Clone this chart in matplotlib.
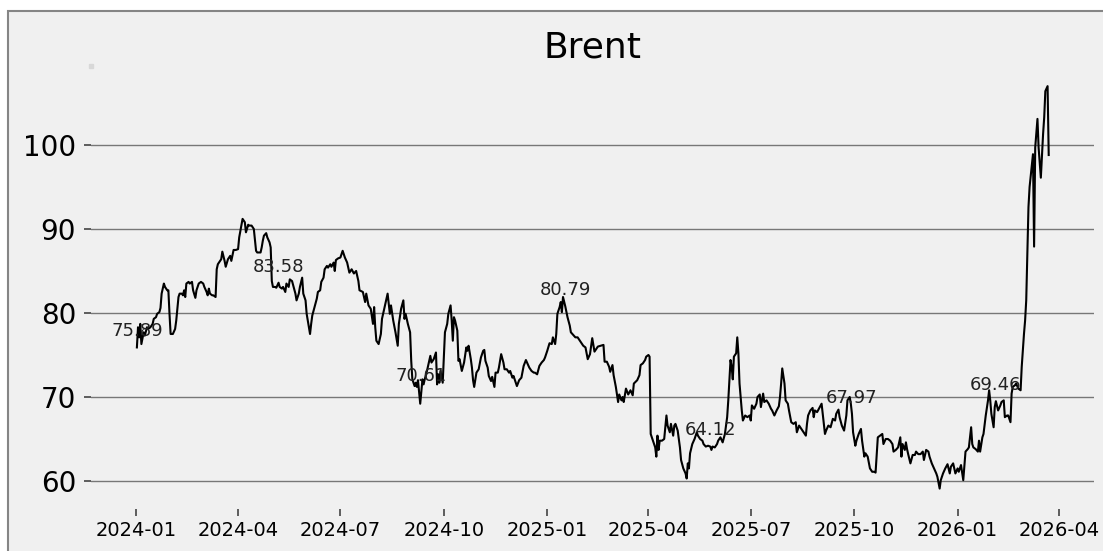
import matplotlib
matplotlib.use("Agg")
import matplotlib.pyplot as plt
import matplotlib.dates as mdates
from matplotlib.patches import Rectangle
import pandas as pd

# Brent close: day offsets from 2024-01-01 and prices
start = pd.Timestamp("2024-01-01")

days_a = [1, 2, 3, 4, 5, 7, 8, 10, 11, 13,
          15, 16, 18, 19, 21, 22, 23, 25, 26, 28,
          29, 30, 31, 33, 35, 36, 38, 39, 41, 42,
          43, 44, 45, 47, 48, 50, 51, 53, 54, 56,
          58, 60, 61, 63, 64, 65, 66, 68, 69, 71,
          72, 73, 76, 77, 79, 80, 82, 84, 85, 87,
          89, 91, 92, 94, 95, 97, 98, 100, 101, 103,
          104, 105, 107, 108, 111, 112, 113, 114, 116, 117,
          119, 120, 121, 122, 124, 125, 127, 128, 130, 131,
          133, 134, 136, 137, 139, 140, 142, 143, 145, 146,
          148, 149, 151, 152, 154, 155, 156, 157, 159, 161,
          162, 164, 165, 167, 168, 170, 171, 173, 174, 176,
          177, 178, 180, 182]
close_a = [75.9, 78.3, 77.1, 78.7, 76.3, 77.7, 77.3, 78.3, 78.1, 78.3,
           78.7, 79.3, 79.5, 79.9, 80.1, 80.6, 82.3, 83.5, 83.1, 82.7,
           82.7, 79.9, 77.5, 77.5, 78.1, 79.1, 81.9, 82.3, 82.3, 82.1,
           82.7, 81.9, 83.5, 83.7, 83.5, 83.7, 82.7, 81.8, 82.7, 83.5,
           83.7, 83.5, 83.1, 82.5, 82.1, 82.9, 82.3, 82.1, 82.1, 81.9,
           85.2, 85.8, 86.4, 87.3, 86.2, 85.5, 86.4, 86.8, 86.2, 87.5,
           87.5, 87.6, 89.0, 90.5, 91.2, 90.8, 89.6, 90.5, 90.4, 90.4,
           90.2, 90.0, 87.4, 87.2, 87.2, 87.8, 88.6, 89.2, 89.5, 89.0,
           88.4, 87.8, 83.8, 83.1, 83.1, 83.0, 83.6, 83.1, 82.9, 83.1,
           82.5, 83.5, 83.1, 84.0, 83.8, 83.3, 82.3, 81.5, 82.3, 83.1,
           84.2, 82.3, 81.5, 79.9, 78.3, 77.5, 78.7, 79.7, 80.7, 81.7,
           82.5, 82.7, 83.7, 84.2, 85.2, 85.6, 85.4, 85.8, 85.5, 86.0,
           85.0, 86.3, 86.5, 86.6]

days_b = [184, 186, 188, 190, 192, 194, 196, 198, 199, 202,
          204, 205, 207, 209, 211, 212, 213, 214, 216, 218,
          219, 222, 224, 226, 227, 229, 231, 233, 234, 236,
          238, 239, 240, 242, 244, 245, 246, 248, 249, 250,
          251, 253, 254, 255, 256, 257, 259, 261, 262, 263,
          265, 267, 268, 269, 270, 271, 273, 274, 275, 277,
          278, 280, 281, 282, 283, 284, 286, 287, 288, 290,
          292, 294, 295, 296, 298, 299, 300, 301, 303, 305,
          307, 309, 310, 311, 313, 314, 316, 317, 319, 320,
          322, 323, 325, 327, 328, 330, 332, 333, 335, 336,
          338, 339, 341, 343, 345, 347, 348, 350, 352, 354,
          355, 357, 359, 361, 363, 364, 366, 368, 370, 371,
          373, 374, 375, 377, 378, 379, 380, 382, 384, 386,
          387, 389, 391, 393, 395, 396, 398, 400, 402, 404]
close_b = [87.4, 86.6, 86.0, 84.8, 85.2, 84.7, 85.0, 83.8, 82.7, 82.5,
           81.3, 82.3, 80.9, 80.5, 78.7, 80.7, 78.3, 76.7, 76.3, 77.5,
           79.3, 81.1, 82.3, 79.9, 80.9, 79.1, 77.7, 76.1, 78.7, 80.5,
           81.5, 79.3, 79.9, 78.7, 77.7, 74.3, 72.1, 71.3, 71.7, 71.2,
           72.0, 69.2, 70.6, 72.1, 71.5, 72.1, 73.1, 74.3, 74.9, 74.1,
           74.5, 75.3, 71.5, 72.7, 71.7, 73.1, 71.7, 74.7, 77.7, 78.7,
           79.9, 80.9, 79.1, 76.7, 79.5, 79.1, 77.9, 74.3, 74.5, 73.1,
           74.1, 75.9, 75.5, 76.1, 74.5, 73.5, 72.0, 71.2, 72.9, 73.3,
           74.7, 75.5, 75.6, 74.3, 73.5, 72.5, 71.9, 72.4, 71.2, 72.9,
           72.9, 73.5, 75.1, 74.1, 73.3, 73.3, 72.9, 73.1, 72.3, 72.5,
           71.7, 71.3, 72.0, 72.3, 73.7, 74.4, 74.1, 73.5, 73.1, 72.9,
           72.9, 72.7, 73.7, 74.1, 74.4, 74.7, 75.5, 76.4, 76.3, 77.1,
           76.3, 77.5, 79.9, 80.7, 81.3, 80.1, 81.9, 80.8, 79.5, 78.5,
           77.7, 77.4, 77.1, 77.1, 76.7, 76.5, 76.1, 75.9, 74.5, 75.1]

days_c = [406, 408, 411, 416, 417, 419, 421, 422, 424, 425,
          427, 429, 430, 432, 433, 434, 436, 438, 440, 442,
          443, 446, 448, 449, 451, 453, 454, 456, 457, 458,
          460, 462, 463, 464, 465, 466, 468, 470, 472, 473,
          475, 476, 478, 479, 480, 482, 484, 485, 487, 489,
          490, 491, 492, 493, 495, 497, 499, 500, 502, 504,
          505, 507, 509, 511, 512, 513, 515, 517, 518, 520,
          522, 524, 526, 527, 528, 529, 530, 531, 532, 534,
          535, 536, 537, 539, 540, 542, 544, 546, 547, 548,
          550, 552, 553, 555, 556, 558, 559, 561, 563, 565,
          566, 568, 570, 572, 573, 574, 575, 577, 578, 580,
          581, 583, 585, 587, 588, 590, 592, 594, 596, 597,
          598, 600, 602, 603, 604, 606, 608, 610, 611, 613,
          614, 616, 618, 620, 622, 623, 625, 626, 628, 630,
          632, 633, 635, 636, 637, 638, 640, 641, 643, 645,
          646, 648, 649, 651, 653, 655, 657, 658, 660, 662,
          664, 665, 667, 669, 671, 673, 674, 676, 678, 680,
          681, 682, 684, 685, 686, 687, 689, 691, 693, 694,
          696, 698, 700, 701, 703, 705, 706, 708, 710, 712,
          713, 715, 716, 718, 720, 722, 724, 725, 727, 729,
          731, 732, 734, 736, 738, 740, 741, 743, 744, 745,
          747, 749, 750, 751, 753, 754, 756, 758, 759, 760,
          761, 763, 764, 765, 767, 769, 770, 772, 773, 775,
          776, 778, 779, 780, 782, 783, 785, 787, 788, 790,
          791, 792, 794, 795, 798, 799, 800, 802, 803, 805,
          807, 808, 809, 811, 812]
close_c = [77.0, 75.4, 76.0, 76.2, 74.2, 74.2, 73.6, 73.0, 73.8, 72.6,
           71.2, 69.4, 70.3, 69.6, 70.0, 69.4, 71.0, 70.3, 70.8, 70.2,
           71.6, 72.0, 72.6, 73.8, 74.0, 74.4, 74.8, 75.0, 74.8, 65.6,
           64.8, 64.0, 62.9, 65.4, 63.7, 64.8, 64.8, 65.0, 67.8, 66.6,
           65.8, 66.8, 65.4, 66.6, 66.8, 66.0, 64.0, 62.5, 61.5, 60.9,
           60.3, 62.1, 61.5, 63.3, 64.4, 65.0, 65.8, 65.4, 65.0, 64.8,
           64.4, 64.1, 64.2, 64.1, 63.7, 64.1, 64.0, 64.4, 64.8, 65.2,
           64.6, 65.6, 67.6, 69.6, 72.0, 74.4, 73.6, 72.1, 74.8, 75.2,
           77.1, 75.2, 71.6, 68.4, 67.2, 67.8, 67.6, 67.8, 67.2, 69.0,
           68.6, 69.2, 70.0, 70.3, 68.8, 70.4, 69.4, 69.6, 69.2, 68.6,
           68.4, 67.8, 68.4, 68.9, 70.0, 71.6, 73.4, 71.6, 69.6, 69.2,
           68.4, 67.0, 66.8, 67.0, 65.8, 66.6, 66.2, 65.8, 65.4, 66.8,
           67.8, 68.4, 68.7, 67.6, 68.4, 68.2, 68.7, 69.2, 68.0, 65.6,
           66.0, 66.6, 66.4, 67.4, 67.2, 68.0, 68.5, 67.6, 66.6, 66.0,
           67.8, 69.6, 70.0, 69.2, 68.0, 65.8, 64.2, 64.8, 65.6, 66.2,
           64.8, 62.9, 63.3, 62.9, 61.5, 61.1, 61.1, 61.0, 65.2, 65.4,
           65.6, 64.4, 65.0, 65.0, 64.8, 64.4, 63.5, 63.7, 64.0, 65.2,
           62.9, 64.4, 63.7, 64.6, 63.8, 63.2, 62.1, 63.1, 63.1, 63.5,
           63.2, 63.2, 63.5, 62.5, 63.7, 63.5, 62.9, 62.1, 61.5, 60.9,
           60.5, 59.1, 60.1, 60.9, 61.5, 62.0, 60.9, 61.7, 62.1, 60.9,
           61.5, 61.1, 61.9, 60.1, 63.5, 63.8, 64.0, 66.4, 64.4, 64.0,
           63.8, 63.5, 64.8, 63.5, 65.2, 65.6, 67.8, 69.6, 70.8, 69.6,
           68.0, 66.4, 68.8, 69.5, 68.4, 69.0, 69.4, 69.6, 67.6, 67.8,
           67.8, 67.0, 70.4, 71.2, 71.4, 71.6, 71.0, 70.8, 73.6, 77.5,
           79.1, 81.5, 92.6, 95.0, 98.9, 87.9, 99.7, 103.1, 99.7, 96.1,
           101.3, 103.3, 106.4, 107.0, 98.8]

# labelled points
label_dates = ["2024-01-02", "2024-05-07", "2024-09-11", "2025-01-17",
               "2025-05-26", "2025-09-29", "2026-02-04"]
label_values = [75.89, 83.58, 70.61, 80.79, 64.12, 67.97, 69.46]

days = days_a + days_b + days_c
close = close_a + close_b + close_c
dates = start + pd.to_timedelta(days, unit="D")

W, H = 1103, 551
fig = plt.figure(figsize=(W / 100, H / 100), dpi=100, facecolor="white")

# grey-framed panel
fig.patches.append(Rectangle((8 / W, -0.1), 1.2, 1 - 11 / H + 0.1,
                             transform=fig.transFigure, facecolor="#f0f0f0",
                             edgecolor="#858585", lw=1.5, zorder=-1))

ax = fig.add_axes([91.3 / W, 1 - 508.7 / H, 1003 / W, 442.7 / H])
ax.set_facecolor("#f0f0f0")

ax.plot(dates, close, color="black", lw=1.5)

for d, v in zip(label_dates, label_values):
    ax.annotate(f"{v:.2f}", xy=(pd.Timestamp(d), v), xytext=(0, 8),
                textcoords="offset points", ha="center", va="baseline",
                fontsize=13, color="#222222")

for s in ax.spines.values():
    s.set_visible(False)

ax.set_yticks([60, 70, 80, 90, 100])
ax.grid(axis="y", color="#777777", lw=1.0)
ax.set_axisbelow(True)
ax.xaxis.set_major_locator(mdates.MonthLocator(bymonth=[1, 4, 7, 10]))
ax.xaxis.set_major_formatter(mdates.DateFormatter("%Y-%m"))
ax.tick_params(axis="y", labelsize=20, length=5, width=1.2, color="#444444", pad=6)
ax.tick_params(axis="x", labelsize=14, length=5, width=1.2, color="#444444", pad=4)

ax.set_title("Brent", fontsize=26, pad=6)

# tiny marker left at the top-left corner of the plot
ax.plot([0], [1], marker="s", ms=3, color="#d8d8d8", transform=ax.transAxes,
        clip_on=False)

fig.savefig("out.png", dpi=100)
